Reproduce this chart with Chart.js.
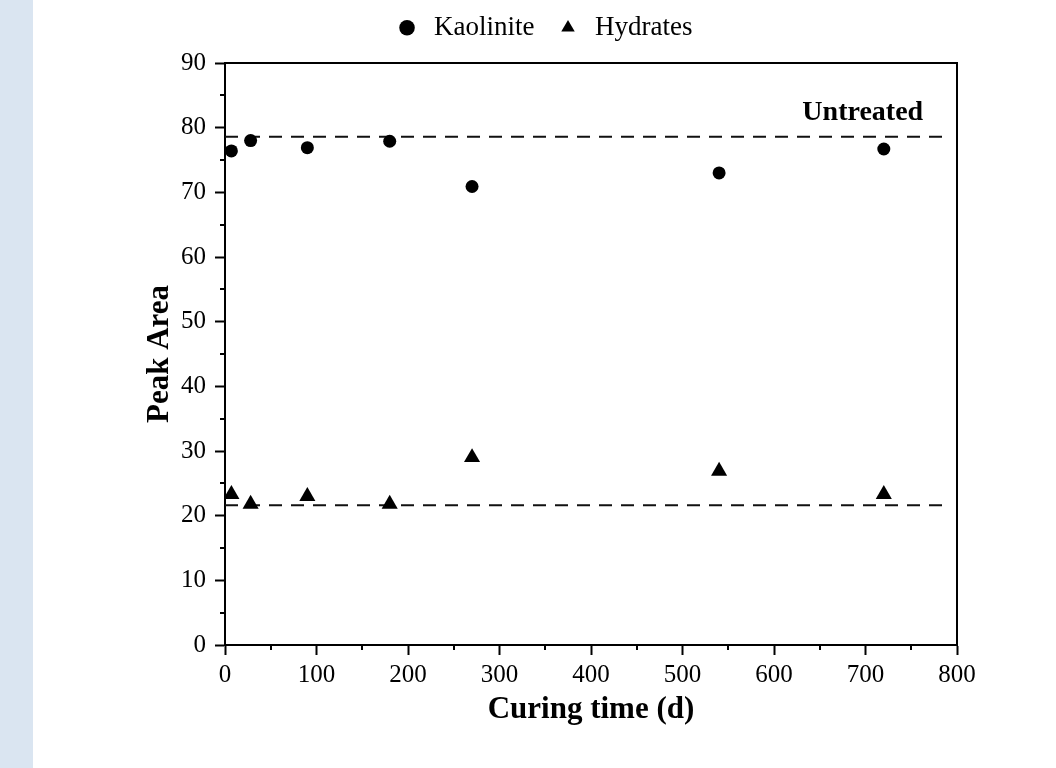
<!DOCTYPE html>
<html>
<head>
<meta charset="utf-8">
<script src="https://cdn.jsdelivr.net/npm/chart.js@4.4.1/dist/chart.umd.min.js"></script>
<style>
  html, body { margin: 0; padding: 0; background: #fff; }
  body { width: 1056px; height: 768px; position: relative; overflow: hidden; }
  .strip { position: absolute; left: 0; top: 0; width: 33px; height: 768px; background: #dae5f1; }
  .wrap { position: absolute; left: 0; top: 0; width: 1056px; height: 768px; }
</style>
</head>
<body>
<div class="strip"></div>
<div class="wrap"><canvas id="chart" width="1056" height="768"></canvas></div>
<script>
const curingDays = [7, 28, 90, 180, 270, 540, 720]
const kaolinite = [76.4, 78.0, 76.9, 77.9, 70.9, 73.0, 76.7]
const hydrates = [23.3, 21.8, 23.0, 21.8, 29.0, 26.9, 23.3]

// untreated reference levels (dashed lines)
const untreatedKaolinite = 78.6
const untreatedHydrates = 21.6
const untreatedSpan = [0, 784]
const untreatedLabelAt = [763, 82.3]

const xTicks = [0, 100, 200, 300, 400, 500, 600, 700, 800]
const xMinorTicks = [50, 150, 250, 350, 450, 550, 650, 750]
const yTicks = [0, 10, 20, 30, 40, 50, 60, 70, 80, 90]
const yMinorTicks = [5, 15, 25, 35, 45, 55, 65, 75, 85]

const SERIF = "'Liberation Serif', 'Times New Roman', serif"
Chart.defaults.font.family = SERIF
Chart.defaults.color = "#000"

const points = values => curingDays.map((d, i) => ({ x: d, y: values[i] }))
const level = v => untreatedSpan.map(x => ({ x, y: v }))

// short outward minor ticks on the left and bottom axes
const minorTicks = {
  id: "minorTicks",
  afterDraw(chart) {
    const { ctx, chartArea, scales: { x, y } } = chart
    ctx.save()
    ctx.strokeStyle = "#000"
    ctx.lineWidth = 2
    ctx.beginPath()
    xMinorTicks.forEach(v => {
      const px = Math.round(x.getPixelForValue(v))
      ctx.moveTo(px, chartArea.bottom)
      ctx.lineTo(px, chartArea.bottom + 5)
    })
    yMinorTicks.forEach(v => {
      const py = Math.round(y.getPixelForValue(v))
      ctx.moveTo(chartArea.left, py)
      ctx.lineTo(chartArea.left - 5, py)
    })
    ctx.stroke()
    ctx.restore()
  }
}

const untreatedLabel = {
  id: "untreatedLabel",
  afterDatasetsDraw(chart) {
    const { ctx, scales: { x, y } } = chart
    ctx.save()
    ctx.font = "bold 28px " + SERIF
    ctx.fillStyle = "#000"
    ctx.textAlign = "right"
    ctx.textBaseline = "middle"
    ctx.fillText("Untreated", x.getPixelForValue(untreatedLabelAt[0]), y.getPixelForValue(untreatedLabelAt[1]))
    ctx.restore()
  }
}

const axisLine = { color: "#000", width: 2 }

new Chart(document.getElementById("chart"), {
  type: "scatter",
  data: {
    datasets: [
      {
        label: "Kaolinite",
        data: points(kaolinite),
        pointStyle: "circle",
        pointRadius: 6.5,
        pointHoverRadius: 6.5,
        backgroundColor: "#000",
        borderColor: "#000",
        borderWidth: 0
      },
      {
        label: "Hydrates",
        data: points(hydrates),
        pointStyle: "triangle",
        pointRadius: 9.3,
        pointHoverRadius: 9.3,
        backgroundColor: "#000",
        borderColor: "#000",
        borderWidth: 0
      },
      {
        label: "Untreated kaolinite",
        data: level(untreatedKaolinite),
        showLine: true,
        borderColor: "#111",
        borderWidth: 2,
        borderDash: [13, 9],
        pointRadius: 0
      },
      {
        label: "Untreated hydrates",
        data: level(untreatedHydrates),
        showLine: true,
        borderColor: "#111",
        borderWidth: 2,
        borderDash: [13, 9],
        pointRadius: 0
      }
    ]
  },
  options: {
    responsive: false,
    animation: false,
    devicePixelRatio: 1,
    layout: { padding: { left: 129, right: 99, top: -5.8, bottom: 39.4 } },
    plugins: {
      tooltip: { enabled: false },
      legend: {
        position: "top",
        labels: {
          usePointStyle: true,
          boxHeight: 11,
          padding: 20,
          color: "#000",
          font: { size: 27 },
          filter: item => item.text === "Kaolinite" || item.text === "Hydrates"
        }
      }
    },
    scales: {
      x: {
        type: "linear",
        position: "bottom",
        min: 0,
        max: 800,
        afterBuildTicks: s => { s.ticks = xTicks.map(value => ({ value })) },
        afterFit: s => { s.height = 83.6 },
        border: axisLine,
        grid: { drawOnChartArea: false, tickLength: 10, tickWidth: 2, tickColor: "#000" },
        ticks: { font: { size: 25 }, padding: 5, maxRotation: 0, color: "#000" },
        title: {
          display: true,
          text: "Curing time (d)",
          font: { size: 31, weight: "bold" },
          color: "#000",
          padding: { top: 0, bottom: 0 }
        }
      },
      y: {
        type: "linear",
        position: "left",
        min: 0,
        max: 90,
        afterBuildTicks: s => { s.ticks = yTicks.map(value => ({ value })) },
        afterFit: s => { s.width = 96 },
        border: axisLine,
        grid: { drawOnChartArea: false, tickLength: 10, tickWidth: 2, tickColor: "#000" },
        ticks: { font: { size: 25 }, padding: 9, color: "#000" },
        title: {
          display: true,
          text: "Peak Area",
          font: { size: 31, weight: "bold" },
          color: "#000",
          padding: { top: 12, bottom: 0 }
        }
      },
      // frame: top and right edges, also leaves the gap under the legend
      xTop: {
        type: "linear",
        position: "top",
        min: 0,
        max: 800,
        afterFit: s => { s.height = 11.8 },
        border: axisLine,
        grid: { drawOnChartArea: false, drawTicks: false },
        ticks: { display: false }
      },
      yRight: {
        type: "linear",
        position: "right",
        min: 0,
        max: 90,
        afterFit: s => { s.width = 0 },
        border: axisLine,
        grid: { drawOnChartArea: false, drawTicks: false },
        ticks: { display: false }
      }
    }
  },
  plugins: [minorTicks, untreatedLabel]
})
</script>
</body>
</html>
